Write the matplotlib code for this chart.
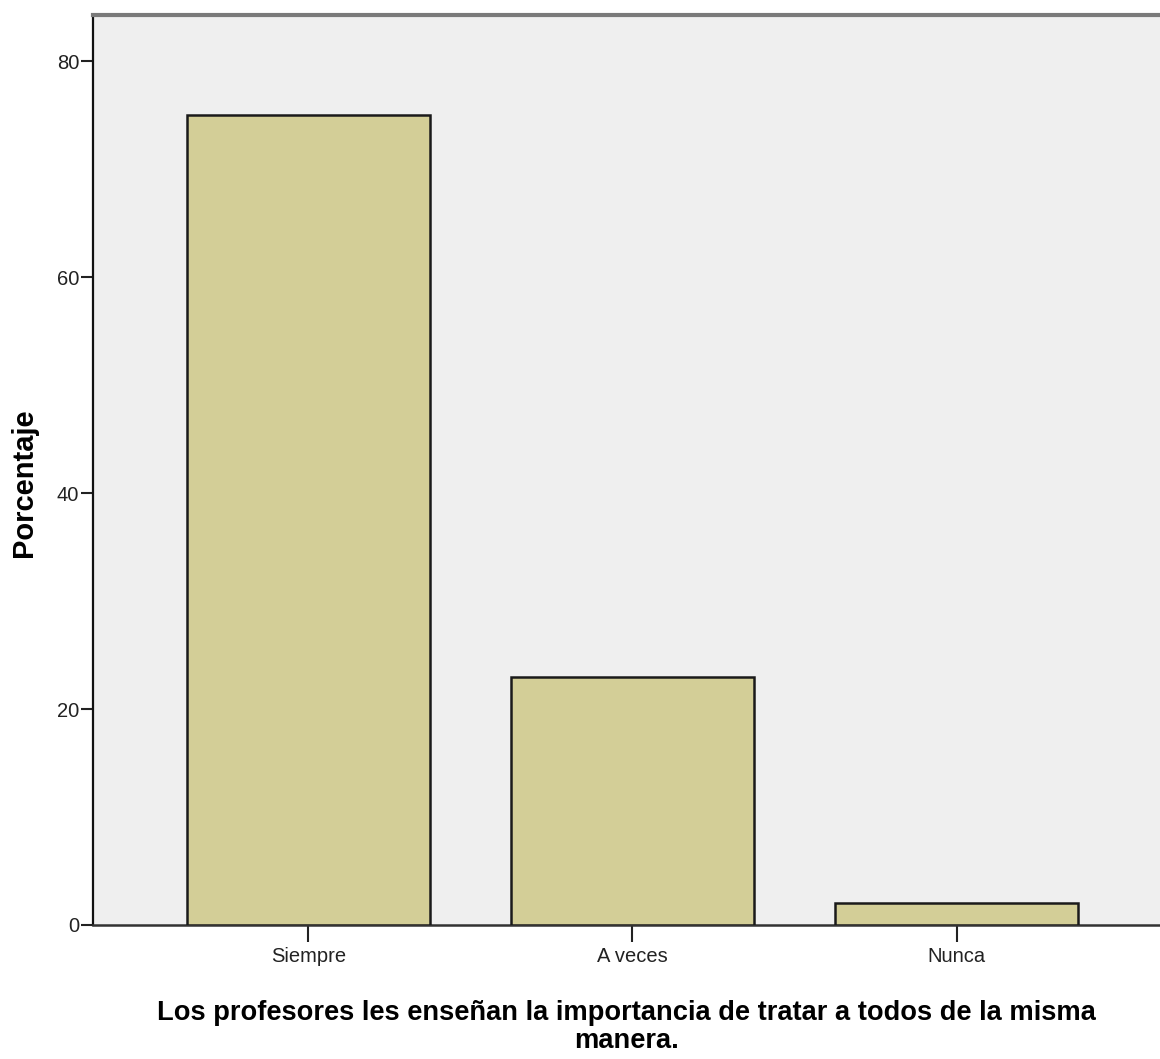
import matplotlib.pyplot as plt
import numpy as np

categories = ['Siempre', 'A veces', 'Nunca']
percent = [75.0, 23.0, 2.0]
yticks = [0, 20, 40, 60, 80]

fam = ['Liberation Sans', 'DejaVu Sans']

fig = plt.figure(figsize=(11.6, 10.59), dpi=100)
# axes box: left spine at x=93 px, bottom at y=925 px, top at y=15 px
ax = fig.add_axes([93 / 1160, 134 / 1059, 1067 / 1160, 910 / 1059])
ax.set_facecolor('#efefef')

x = np.arange(len(categories))
ax.bar(x, percent, width=0.75, color='#d3ce97', edgecolor='#1a1a1a', linewidth=1.8, zorder=3)

ax.set_xlim(-0.665, 2.628)
ax.set_ylim(0, 84.3)
ax.set_xticks(x)
ax.set_xticklabels(categories, family=fam, fontsize=14.5)
ax.set_yticks(yticks)
ax.set_yticklabels([str(v) for v in yticks], family=fam, fontsize=14.5)
ax.tick_params(axis='y', length=9, width=1.5, pad=1, colors='#222222')
ax.tick_params(axis='x', length=12, width=1.5, pad=4, colors='#222222')

ax.spines['right'].set_visible(False)
ax.spines['top'].set_color('#7a7a7a')
ax.spines['top'].set_linewidth(3)
ax.spines['left'].set_linewidth(1.6)
ax.spines['left'].set_color('#111111')
ax.spines['bottom'].set_linewidth(1.8)
ax.spines['bottom'].set_color('#333333')

ax.set_ylabel('Porcentaje', family=fam, fontweight='bold', fontsize=21)
ax.yaxis.set_label_coords(-0.052, 0.486)
ax.set_xlabel('Los profesores les enseñan la importancia de tratar a todos de la misma\nmanera.',
              family=fam, fontweight='bold', fontsize=19.6, labelpad=24, linespacing=1.1)

fig.savefig('out.png', dpi=100)
